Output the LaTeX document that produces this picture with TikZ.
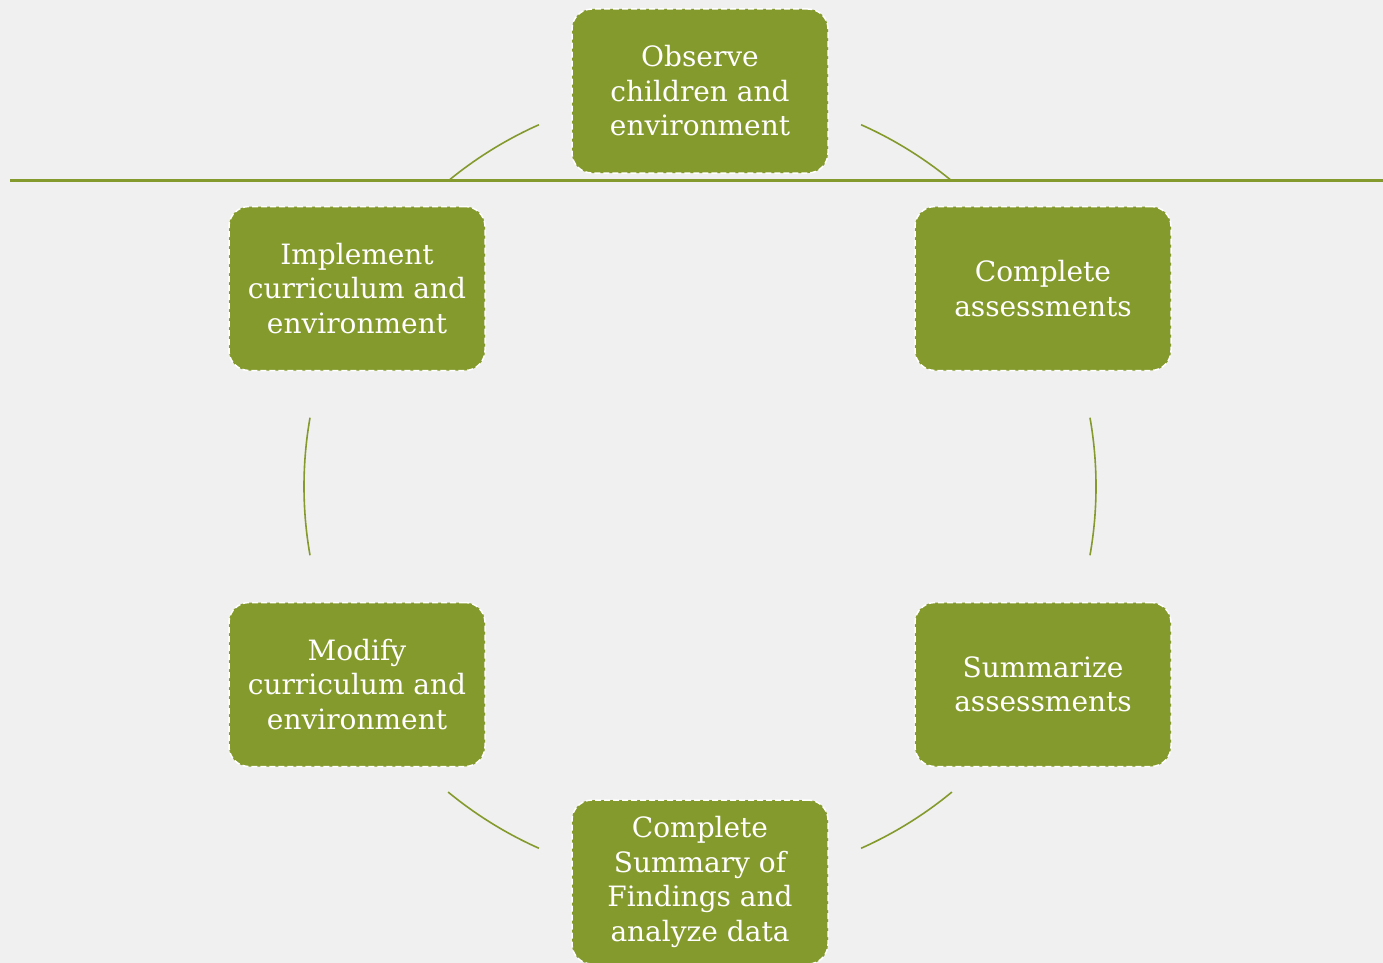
\documentclass[tikz,border=0pt]{standalone}
\usepackage{fontspec}
\setmainfont{DejaVu Serif}
\definecolor{olive}{RGB}{132,154,44}
\definecolor{bg}{RGB}{240,240,240}
\begin{document}
\begin{tikzpicture}[x=1pt,y=-1pt,
  stepbox/.style={fill=olive, draw=white, dash pattern=on 6pt off 3pt, line width=1.5pt,
    rounded corners=20pt, minimum width=256pt, minimum height=164pt,
    text=white, align=center, inner sep=0pt,
    font=\fontsize{28}{34.5}\selectfont},
  arcline/.style={draw=olive, line width=1.6pt}]
\fill[bg] (0,0) rectangle (1383,963);
\useasboundingbox (0,0) rectangle (1383,963);
\coordinate (c) at (700,486.5);
\draw[olive, line width=3pt] (10,180) coordinate (l1) -- (1383,180) coordinate (l2);
\node[stepbox] (n1) at (700,91) {Observe\\children and\\environment};
\node[stepbox] (n2) at (1043,288.5) {Complete\\assessments};
\node[stepbox] (n3) at (1043,684.5) {Summarize\\assessments};
\node[stepbox] (n4) at (700,882) {Complete\\Summary of\\Findings and\\analyze data};
\node[stepbox] (n5) at (357,684.5) {Modify\\curriculum and\\environment};
\node[stepbox] (n6) at (357,288.5) {Implement\\curriculum and\\environment};
% arcs (y axis flipped: angles measured clockwise on screen)
\foreach \a/\b in {-114/-129.2, -50.7/-66, -10/10, 50.5/66, 114/129.5, 170/190}{
  \draw[arcline] ([shift={(\a:396)}]c) arc[start angle=\a, end angle=\b, radius=396];
}
\end{tikzpicture}
\end{document}
